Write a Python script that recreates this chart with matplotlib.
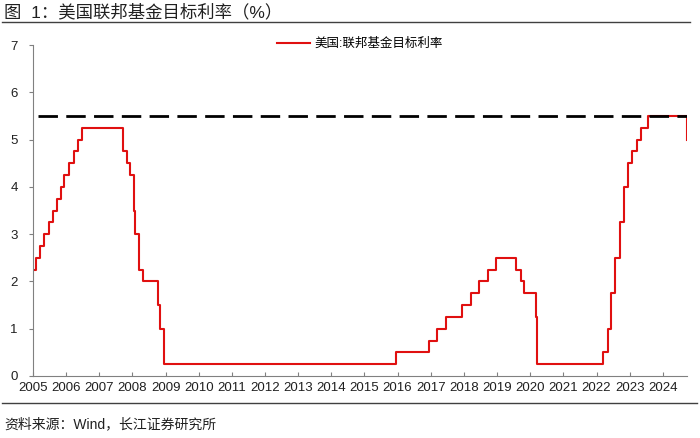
import pandas as pd
import matplotlib.pyplot as plt
import matplotlib.dates as mdates

plt.rcParams['font.family'] = ['Liberation Sans', 'Noto Sans CJK SC']

# Fed funds target rate (upper bound) change dates and levels
dates = ['2005-01-01', '2005-02-02', '2005-03-22', '2005-05-03', '2005-06-30', '2005-08-09',
         '2005-09-20', '2005-11-01', '2005-12-13', '2006-01-31', '2006-03-28', '2006-05-10',
         '2006-06-29', '2007-09-18', '2007-10-31', '2007-12-11', '2008-01-22', '2008-01-30',
         '2008-03-18', '2008-04-30', '2008-10-08', '2008-10-29', '2008-12-16', '2015-12-16',
         '2016-12-14', '2017-03-15', '2017-06-14', '2017-12-13', '2018-03-21', '2018-06-13',
         '2018-09-26', '2018-12-19', '2019-07-31', '2019-09-18', '2019-10-30', '2020-03-03',
         '2020-03-15', '2022-03-16', '2022-05-04', '2022-06-15', '2022-07-27', '2022-09-21',
         '2022-11-02', '2022-12-14', '2023-02-01', '2023-03-22', '2023-05-03', '2023-07-26',
         '2024-09-19', '2024-09-24']
rates = [2.25, 2.5, 2.75, 3.0, 3.25, 3.5,
         3.75, 4.0, 4.25, 4.5, 4.75, 5.0,
         5.25, 4.75, 4.5, 4.25, 3.5, 3.0,
         2.25, 2.0, 1.5, 1.0, 0.25, 0.5,
         0.75, 1.0, 1.25, 1.5, 1.75, 2.0,
         2.25, 2.5, 2.25, 2.0, 1.75, 1.25,
         0.25, 0.5, 1.0, 1.75, 2.5, 3.25,
         4.0, 4.5, 4.75, 5.0, 5.25, 5.5,
         5.0, 5.0]
ref_level = 5.5
series_label = '美国:联邦基金目标利率'

df = pd.DataFrame({'date': pd.to_datetime(dates), 'rate': rates})

fig = plt.figure(figsize=(7, 4.38), dpi=100)
ax = fig.add_axes([33 / 700, 1 - 376 / 438, 654 / 700, 331 / 438])

ax.step(df['date'], df['rate'], where='post', color='#E01010', lw=1.5, label=series_label)
ax.axhline(ref_level, xmin=0.008, xmax=1, color='black', lw=2.0, linestyle=(0, (7, 3)))

ax.set_xlim(pd.Timestamp('2005-01-01'), pd.Timestamp('2024-09-24'))
ax.set_ylim(0, 7)
ax.xaxis.set_major_locator(mdates.YearLocator())
ax.xaxis.set_major_formatter(mdates.DateFormatter('%Y'))
ax.set_yticks(range(0, 8))

for side in ['top', 'right']:
    ax.spines[side].set_visible(False)
for side in ['left', 'bottom']:
    ax.spines[side].set_color('#808080')
ax.tick_params(axis='x', direction='in', length=3, color='#808080', labelsize=9.5, pad=4,
               labelcolor='#202020')
ax.tick_params(axis='y', direction='out', length=3, color='#808080', labelsize=9.5, pad=8,
               labelcolor='#202020')

leg = ax.legend(loc='upper center', bbox_to_anchor=(0.5, 1.055), frameon=False,
                fontsize=9, handlelength=2.6, handletextpad=0.4)

# title, source and separator lines
fig.text(0.006, 0.972, '图  1：美国联邦基金目标利率（%）', fontsize=12.5, va='center', ha='left',
         color='#202020')
fig.add_artist(plt.Line2D([0.003, 0.985], [1 - 22 / 438, 1 - 22 / 438], color='#404040', lw=1.0))
fig.add_artist(plt.Line2D([0.003, 0.995], [1 - 403 / 438, 1 - 403 / 438], color='#404040', lw=1.0))
fig.text(0.006, 1 - 424 / 438, '资料来源：Wind，长江证券研究所', fontsize=10, va='center', ha='left',
         color='#202020')

fig.savefig('out.png', dpi=100)
